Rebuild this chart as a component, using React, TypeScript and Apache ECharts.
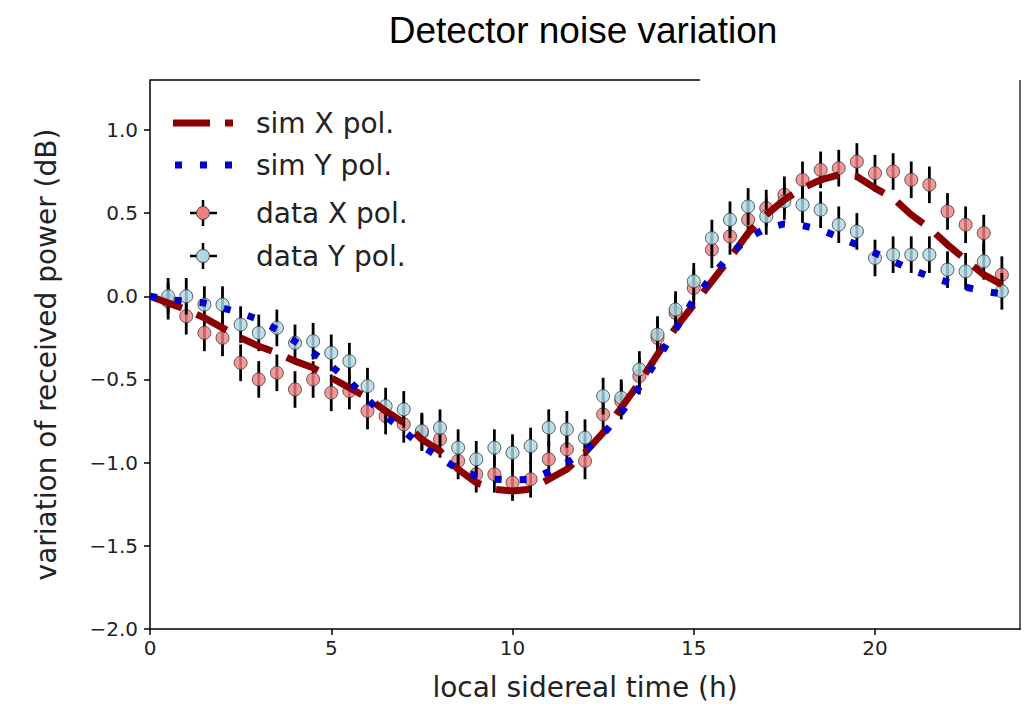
import React, { useEffect, useRef } from "react";
import * as echarts from "echarts";

// simulation grid (h)
const simHours = [
  0, 0.5, 1, 1.5, 2, 2.5, 3, 3.5, 4, 4.5, 5, 5.5, 6, 6.5, 7, 7.5, 8, 8.5, 9, 9.5,
  10, 10.5, 11, 11.5, 12, 12.5, 13, 13.5, 14, 14.5, 15, 15.5, 16, 16.5, 17, 17.5,
  18, 18.5, 19, 19.5, 20, 20.5, 21, 21.5, 22, 22.5, 23, 23.5,
];
const simX = [
  0.0, -0.04, -0.08, -0.13, -0.19, -0.25, -0.3, -0.34, -0.39, -0.43, -0.49, -0.55,
  -0.61, -0.69, -0.76, -0.86, -0.93, -1.04, -1.12, -1.16, -1.17, -1.16, -1.1, -1.04,
  -0.94, -0.82, -0.67, -0.52, -0.35, -0.19, -0.05, 0.09, 0.23, 0.38, 0.49, 0.58,
  0.65, 0.7, 0.73, 0.72, 0.65, 0.59, 0.49, 0.41, 0.31, 0.22, 0.13, 0.07,
];
const simY = [
  0.0, -0.02, -0.03, -0.04, -0.07, -0.1, -0.14, -0.2, -0.27, -0.34, -0.42, -0.51,
  -0.62, -0.72, -0.81, -0.9, -0.97, -1.04, -1.08, -1.1, -1.105, -1.1, -1.055, -1.0,
  -0.93, -0.83, -0.7, -0.545, -0.38, -0.2, -0.02, 0.12, 0.25, 0.35, 0.41, 0.435,
  0.425, 0.4, 0.355, 0.31, 0.26, 0.21, 0.16, 0.12, 0.085, 0.055, 0.03, 0.015,
];

// measurements (h)
const dataHours = [
  0.5, 1, 1.5, 2, 2.5, 3, 3.5, 4, 4.5, 5, 5.5, 6, 6.5, 7, 7.5, 8, 8.5, 9, 9.5, 10,
  10.5, 11, 11.5, 12, 12.5, 13, 13.5, 14, 14.5, 15, 15.5, 16, 16.5, 17, 17.5, 18,
  18.5, 19, 19.5, 20, 20.5, 21, 21.5, 22, 22.5, 23, 23.5,
];
const dataX = [
  -0.03, -0.12, -0.22, -0.25, -0.4, -0.5, -0.46, -0.56, -0.5, -0.58, -0.57, -0.69,
  -0.72, -0.77, -0.82, -0.86, -0.99, -1.07, -1.07, -1.12, -1.1, -0.98, -0.92, -0.99,
  -0.71, -0.63, -0.48, -0.25, -0.1, 0.05, 0.28, 0.36, 0.46, 0.53, 0.61, 0.7, 0.76,
  0.77, 0.81, 0.74, 0.75, 0.7, 0.67, 0.51, 0.43, 0.38, 0.13,
];
const dataY = [
  0.0, 0.0, -0.05, -0.05, -0.17, -0.22, -0.19, -0.28, -0.27, -0.34, -0.39, -0.54,
  -0.66, -0.68, -0.81, -0.79, -0.91, -0.98, -0.91, -0.94, -0.9, -0.79, -0.8, -0.85,
  -0.6, -0.61, -0.44, -0.23, -0.08, 0.09, 0.35, 0.46, 0.54, 0.48, 0.57, 0.55, 0.52,
  0.43, 0.39, 0.23, 0.25, 0.25, 0.25, 0.16, 0.15, 0.21, 0.03,
];
const dataErr = 0.11;

const xTicks = [0, 5, 10, 15, 20];
const yTicks = [-2, -1.5, -1, -0.5, 0, 0.5, 1];

const TITLE = "Detector noise variation";
const X_NAME = "local sidereal time (h)";
const Y_NAME = "variation of received power (dB)";
const LEGEND = ["sim X pol.", "sim Y pol.", "data X pol.", "data Y pol."];

const C_SIMX = "#8B0000";
const C_SIMY = "#0000CD";
const C_DX = "#F08080";
const C_DY = "#ADD8E6";
const EDGE = "#3a3a3a";

const FONT = "DejaVu Sans";

function errSeries(vals: number[], z: number) {
  return {
    type: "custom",
    z,
    encode: { x: 0, y: 1 },
    data: dataHours.map((h, i) => [h, vals[i], dataErr]),
    renderItem: (params: any, api: any) => {
      const x = api.value(0);
      const y = api.value(1);
      const e = api.value(2);
      const p1 = api.coord([x, y - e]);
      const p2 = api.coord([x, y + e]);
      return {
        type: "line",
        shape: { x1: p1[0], y1: p1[1], x2: p2[0], y2: p2[1] },
        style: { stroke: "#000", lineWidth: 2.8 },
      };
    },
  };
}

function scatterSeries(vals: number[], color: string, z: number) {
  return {
    type: "scatter",
    z,
    symbol: "circle",
    symbolSize: 13,
    itemStyle: { color, borderColor: EDGE, borderWidth: 1 },
    data: dataHours.map((h, i) => [h, vals[i]]),
  };
}

function legendGraphics() {
  const tx = 256;
  const ys = [123, 165, 213, 256];
  const els: any[] = [];
  els.push({ type: "line", shape: { x1: 173, y1: ys[0], x2: 210, y2: ys[0] }, style: { stroke: C_SIMX, lineWidth: 7 } });
  els.push({ type: "line", shape: { x1: 225, y1: ys[0], x2: 233, y2: ys[0] }, style: { stroke: C_SIMX, lineWidth: 7 } });
  [175, 200, 225].forEach((x) =>
    els.push({ type: "rect", shape: { x, y: ys[1] - 3.5, width: 7, height: 7 }, style: { fill: C_SIMY } })
  );
  [
    [ys[2], C_DX],
    [ys[3], C_DY],
  ].forEach(([y, c]: any) => {
    els.push({ type: "line", shape: { x1: 190, y1: y, x2: 217, y2: y }, style: { stroke: "#000", lineWidth: 2.5 } });
    els.push({ type: "line", shape: { x1: 203, y1: y - 13, x2: 203, y2: y + 13 }, style: { stroke: "#000", lineWidth: 2.5 } });
    els.push({ type: "circle", shape: { cx: 203, cy: y, r: 6.5 }, style: { fill: c, stroke: EDGE, lineWidth: 1 } });
  });
  LEGEND.forEach((t, i) =>
    els.push({
      type: "text",
      x: tx,
      y: ys[i],
      style: { text: t, fontFamily: FONT, fontSize: 28, fill: "#222", verticalAlign: "middle", align: "left" },
    })
  );
  return els;
}

const fmt = (v: number) => (v < 0 ? "\u2212" : "") + Math.abs(v).toFixed(1);

export default function App() {
  const ref = useRef<HTMLDivElement>(null);
  useEffect(() => {
    if (!ref.current) return;
    const chart = echarts.init(ref.current, undefined, { renderer: "svg" });
    const option: any = {
      animation: false,
      backgroundColor: "#fff",
      grid: { left: 150, top: 80, right: 9, bottom: 76, show: false },
      xAxis: {
        type: "value",
        min: 0,
        max: 24,
        interval: 5,
        name: X_NAME,
        nameLocation: "middle",
        nameGap: 44,
        nameTextStyle: { fontFamily: FONT, fontSize: 28, color: "#222" },
        axisLine: { show: true, onZero: false, lineStyle: { color: "#000", width: 1.5 } },
        axisTick: { show: true, length: 6, lineStyle: { color: "#000", width: 1.5 }, customValues: xTicks },
        axisLabel: { customValues: xTicks, color: "#222", fontFamily: FONT, fontSize: 20, margin: 9 },
        splitLine: { show: false },
      },
      yAxis: {
        type: "value",
        min: -2,
        max: 1.3,
        interval: 0.5,
        name: Y_NAME,
        nameLocation: "middle",
        nameGap: 90,
        nameRotate: 90,
        nameTextStyle: { fontFamily: FONT, fontSize: 28, color: "#222" },
        axisLine: { show: true, onZero: false, lineStyle: { color: "#000", width: 1.5 } },
        axisTick: { show: true, length: 6, lineStyle: { color: "#000", width: 1.5 }, customValues: yTicks },
        axisLabel: { customValues: yTicks, color: "#222", fontFamily: FONT, fontSize: 20, margin: 12, formatter: fmt },
        splitLine: { show: false },
      },
      graphic: [
        {
          type: "text",
          x: 583,
          y: 30,
          style: { text: TITLE, fontFamily: "Liberation Sans", fontSize: 37, fill: "#000", align: "center", verticalAlign: "middle" },
        },
        { type: "line", shape: { x1: 150, y1: 80, x2: 700, y2: 80 }, style: { stroke: "#000", lineWidth: 1.5 } },
        { type: "line", shape: { x1: 1020, y1: 80, x2: 1020, y2: 630 }, style: { stroke: "#333", lineWidth: 1.5 } },
        ...legendGraphics(),
      ],
      series: [
        errSeries(dataX, 2),
        scatterSeries(dataX, C_DX, 3),
        errSeries(dataY, 4),
        scatterSeries(dataY, C_DY, 5),
        {
          type: "line",
          z: 6,
          showSymbol: false,
          symbol: "none",
          data: simHours.map((h, i) => [h, simX[i]]),
          lineStyle: { color: C_SIMX, width: 7, type: [34, 16], cap: "butt" },
        },
        {
          type: "line",
          z: 7,
          showSymbol: false,
          symbol: "none",
          data: simHours.map((h, i) => [h, simY[i]]),
          lineStyle: { color: C_SIMY, width: 7, type: [7, 18], cap: "butt" },
        },
      ],
    };
    chart.setOption(option);
    return () => chart.dispose();
  }, []);
  return (
    <div
      ref={ref}
      style={{ position: "absolute", left: 0, top: 0, width: 1029, height: 706 }}
    />
  );
}
